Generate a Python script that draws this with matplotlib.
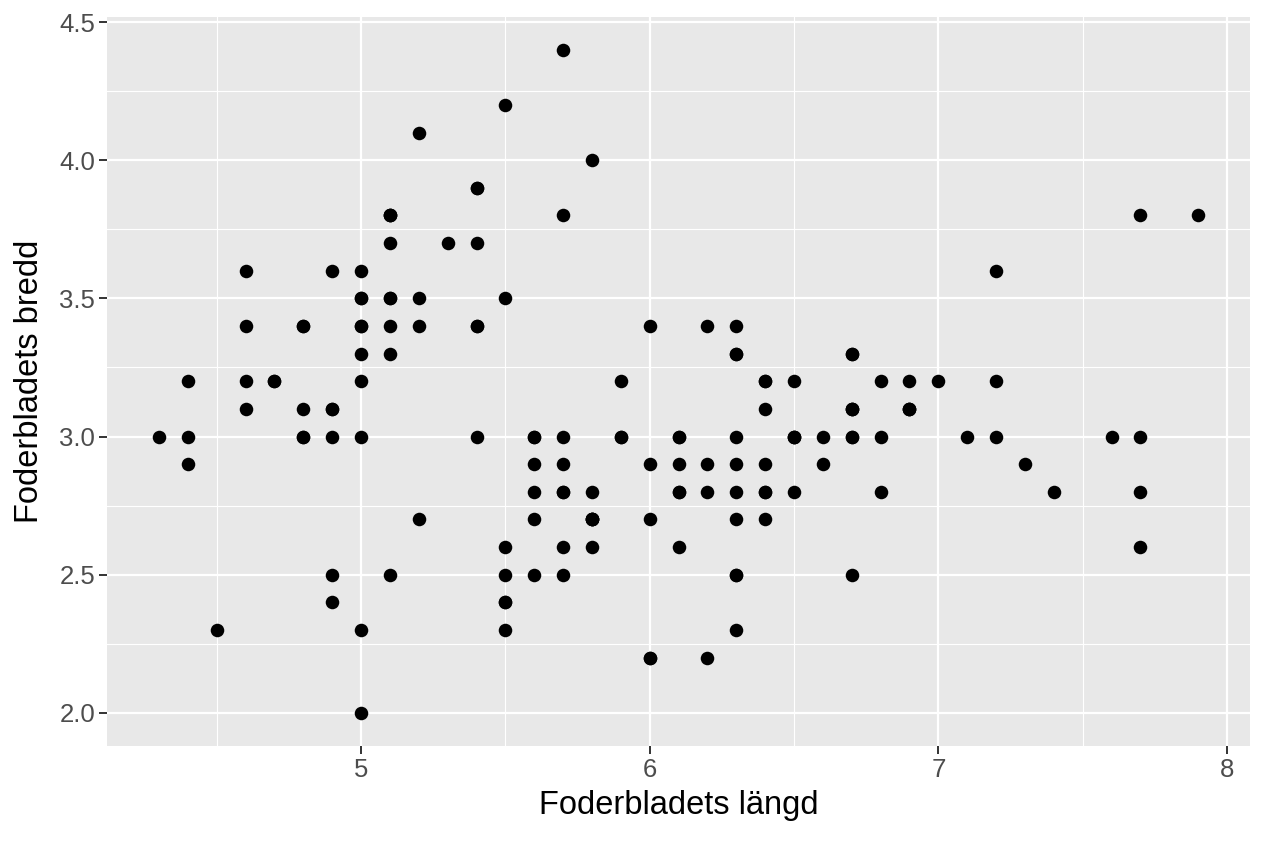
import matplotlib.pyplot as plt
from matplotlib.ticker import MultipleLocator

plt.rcParams['font.family'] = ['Liberation Sans', 'DejaVu Sans']

# Sepal length / width (iris data)
sepal_length = [
    5.1, 4.9, 4.7, 4.6, 5.0, 5.4, 4.6, 5.0, 4.4, 4.9, 5.4, 4.8, 4.8, 4.3, 5.8,
    5.7, 5.4, 5.1, 5.7, 5.1, 5.4, 5.1, 4.6, 5.1, 4.8, 5.0, 5.0, 5.2, 5.2, 4.7,
    4.8, 5.4, 5.2, 5.5, 4.9, 5.0, 5.5, 4.9, 4.4, 5.1, 5.0, 4.5, 4.4, 5.0, 5.1,
    4.8, 5.1, 4.6, 5.3, 5.0,
    7.0, 6.4, 6.9, 5.5, 6.5, 5.7, 6.3, 4.9, 6.6, 5.2, 5.0, 5.9, 6.0, 6.1, 5.6,
    6.7, 5.6, 5.8, 6.2, 5.6, 5.9, 6.1, 6.3, 6.1, 6.4, 6.6, 6.8, 6.7, 6.0, 5.7,
    5.5, 5.5, 5.8, 6.0, 5.4, 6.0, 6.7, 6.3, 5.6, 5.5, 5.5, 6.1, 5.8, 5.0, 5.6,
    5.7, 5.7, 6.2, 5.1, 5.7,
    6.3, 5.8, 7.1, 6.3, 6.5, 7.6, 4.9, 7.3, 6.7, 7.2, 6.5, 6.4, 6.8, 5.7, 5.8,
    6.4, 6.5, 7.7, 7.7, 6.0, 6.9, 5.6, 7.7, 6.3, 6.7, 7.2, 6.2, 6.1, 6.4, 7.2,
    7.4, 7.9, 6.4, 6.3, 6.1, 7.7, 6.3, 6.4, 6.3, 6.9, 6.7, 6.9, 5.8, 6.8, 6.7,
    6.7, 6.3, 6.5, 6.2, 5.9,
]
sepal_width = [
    3.5, 3.0, 3.2, 3.1, 3.6, 3.9, 3.4, 3.4, 2.9, 3.1, 3.7, 3.4, 3.0, 3.0, 4.0,
    4.4, 3.9, 3.5, 3.8, 3.8, 3.4, 3.7, 3.6, 3.3, 3.4, 3.0, 3.4, 3.5, 3.4, 3.2,
    3.1, 3.4, 4.1, 4.2, 3.1, 3.2, 3.5, 3.6, 3.0, 3.4, 3.5, 2.3, 3.2, 3.5, 3.8,
    3.0, 3.8, 3.2, 3.7, 3.3,
    3.2, 3.2, 3.1, 2.3, 2.8, 2.8, 3.3, 2.4, 2.9, 2.7, 2.0, 3.0, 2.2, 2.9, 2.9,
    3.1, 3.0, 2.7, 2.2, 2.5, 3.2, 2.8, 2.5, 2.8, 2.9, 3.0, 2.8, 3.0, 2.9, 2.6,
    2.4, 2.4, 2.7, 2.7, 3.0, 3.4, 3.1, 2.3, 3.0, 2.5, 2.6, 3.0, 2.6, 2.3, 2.7,
    3.0, 2.9, 2.9, 2.5, 2.8,
    3.3, 2.7, 3.0, 2.9, 3.0, 3.0, 2.5, 2.9, 2.5, 3.6, 3.2, 2.7, 3.0, 2.5, 2.8,
    3.2, 3.0, 3.8, 2.6, 2.2, 3.2, 2.8, 2.8, 2.7, 3.3, 3.2, 2.8, 3.0, 2.8, 3.0,
    2.8, 3.8, 2.8, 2.8, 2.6, 3.0, 3.4, 3.1, 3.0, 3.1, 3.1, 3.1, 2.7, 3.2, 3.3,
    3.0, 2.5, 3.0, 3.4, 3.0,
]

fig = plt.figure(figsize=(12.64, 8.43), dpi=100)
ax = fig.add_axes([0.0847, 0.1151, 0.9043, 0.8653])

ax.set_facecolor('#e8e8e8')
for s in ax.spines.values():
    s.set_visible(False)

ax.scatter(sepal_length, sepal_width, s=95, color='black', linewidths=0, zorder=3)

xmin, xmax = min(sepal_length), max(sepal_length)
ymin, ymax = min(sepal_width), max(sepal_width)
xpad = (xmax - xmin) * 0.05
ypad = (ymax - ymin) * 0.05
ax.set_xlim(xmin - xpad, xmax + xpad)
ax.set_ylim(ymin - ypad, ymax + ypad)

ax.xaxis.set_major_locator(MultipleLocator(1))
ax.xaxis.set_minor_locator(MultipleLocator(0.5))
ax.yaxis.set_major_locator(MultipleLocator(0.5))
ax.yaxis.set_minor_locator(MultipleLocator(0.25))
ax.yaxis.set_major_formatter(plt.FuncFormatter(lambda v, p: f'{v:.1f}'))

ax.grid(which='major', color='white', linewidth=1.6, zorder=1)
ax.grid(which='minor', color='white', linewidth=0.8, zorder=1)
ax.set_axisbelow(True)

ax.tick_params(which='major', length=5.5, width=1.4, color='#333333',
               labelsize=18.5, labelcolor='#4d4d4d', pad=3)
ax.tick_params(which='minor', length=0)

ax.set_xlabel('Foderbladets längd', fontsize=23.5, labelpad=6)
ax.set_ylabel('Foderbladets bredd', fontsize=23.5, labelpad=10)

plt.savefig('out.png', dpi=100)
